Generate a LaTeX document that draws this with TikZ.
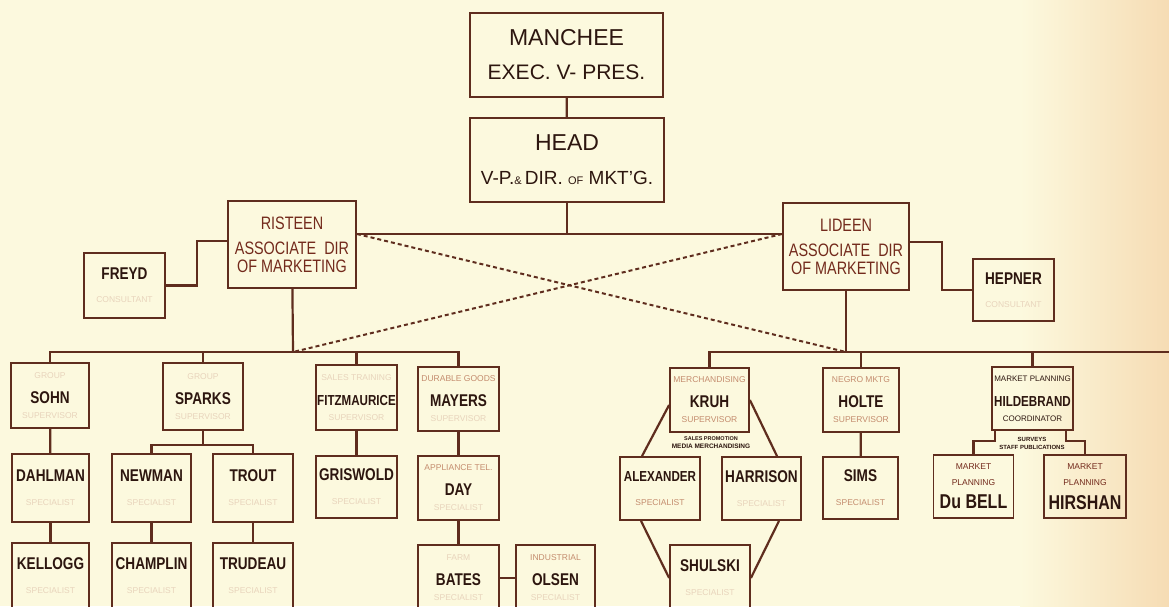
\documentclass[tikz,border=0pt]{standalone}
\usepackage{fontspec}
\setmainfont{Liberation Sans}
\newfontfamily\namefont[FakeStretch=0.8]{Liberation Sans}

\definecolor{paper}{RGB}{252,249,222}
\definecolor{peach}{RGB}{246,220,180}
\definecolor{inkline}{RGB}{95,45,30}
\definecolor{inkname}{RGB}{45,22,15}
\definecolor{inkred}{RGB}{115,42,28}
\definecolor{inkfade}{RGB}{196,140,110}
\definecolor{inkpale}{RGB}{232,212,188}

% bits of text inside the boxes
\newcommand{\who}[1]{{\namefont\bfseries\fontsize{17}{17}\selectfont #1}}
\newcommand{\whosm}[1]{{\namefont\bfseries\fontsize{14.5}{17}\selectfont #1}}
\newcommand{\whobig}[1]{{\namefont\bfseries\fontsize{20}{20}\selectfont #1}}
\newcommand{\role}[1]{{\fontsize{8.5}{10}\selectfont\color{inkfade}#1}}
\newcommand{\rolered}[1]{{\fontsize{8.5}{10}\selectfont\color{inkred}#1}}
\newcommand{\roledark}[1]{{\fontsize{8}{10}\selectfont\color{inkname}#1}}
\newcommand{\pale}[1]{{\fontsize{8.5}{10}\selectfont\color{inkpale}#1}}

\begin{document}
\begin{tikzpicture}[x=1pt,y=-1pt,
    box/.style={draw=inkline, line width=1.8pt, align=center, inner sep=0pt,
      text=inkname, font=\fontsize{9}{14}\selectfont},
    top/.style={box, font=\fontsize{23}{34}\selectfont},
    assoc/.style={box, text=inkred, font=\namefont\fontsize{18}{18}\selectfont},
    link/.style={inkline, line width=2.2pt},
    cross/.style={inkline, line width=2pt, dash pattern=on 4pt off 3pt},
    note/.style={align=center, inner sep=0pt, text=inkname, font=\bfseries\fontsize{6}{8}\selectfont}]

    % paper
    \useasboundingbox (0,0) rectangle (1169,606);
    \fill[paper] (0,0) rectangle (1169,606);
    \shade[left color=paper, right color=peach] (1020,0) rectangle (1169,606);

    % top of the chart
    \node[top, minimum width=193pt, minimum height=84pt] (manchee) at (566.5,55) {MANCHEE\\{\fontsize{21}{34}\selectfont EXEC. V- PRES.}};
    \node[top, minimum width=194pt, minimum height=84pt] (head) at (567,160)
        {HEAD\\{\fontsize{19}{34}\selectfont V-P.{\fontsize{11}{11}\selectfont\&}\,DIR. {\fontsize{11}{11}\selectfont OF} MKT'G.}};

    \node[assoc, minimum width=128pt, minimum height=87pt] (risteen) at (292,244.5)
        {RISTEEN\\[7pt]ASSOCIATE\ \ DIR\\OF MARKETING};
    \node[assoc, minimum width=126pt, minimum height=87pt] (lideen) at (846,246.5)
        {LIDEEN\\[7pt]ASSOCIATE\ \ DIR\\OF MARKETING};

    \node[box, minimum width=81pt, minimum height=65pt] (freyd) at (124.5,285.5) {\who{FREYD}\\[9pt]\pale{CONSULTANT}};
    \node[box, minimum width=81pt, minimum height=62pt] (hepner) at (1013.5,290) {\who{HEPNER}\\[9pt]\pale{CONSULTANT}};

    % risteen's people
    \node[box, minimum width=78pt, minimum height=65pt] (sohn) at (50,395.5) {\pale{GROUP}\\[11pt]\who{SOHN}\\[1pt]\pale{SUPERVISOR}};
    \node[box, minimum width=80pt, minimum height=67pt] (sparks) at (203,396.5) {\pale{GROUP}\\[11pt]\who{SPARKS}\\[1pt]\pale{SUPERVISOR}};
    \node[box, minimum width=81pt, minimum height=65pt] (fitz) at (356.5,397.5) {\pale{SALES TRAINING}\\[11pt]\whosm{FITZMAURICE}\\[1pt]\pale{SUPERVISOR}};
    \node[box, minimum width=81pt, minimum height=64pt] (mayers) at (458.5,399) {\role{DURABLE GOODS}\\[11pt]\who{MAYERS}\\[1pt]\pale{SUPERVISOR}};

    \node[box, minimum width=77pt, minimum height=68pt] (dahlman) at (50.5,488) {\who{DAHLMAN}\\[10pt]\pale{SPECIALIST}};
    \node[box, minimum width=79pt, minimum height=68pt] (newman) at (151.5,488) {\who{NEWMAN}\\[10pt]\pale{SPECIALIST}};
    \node[box, minimum width=80pt, minimum height=68pt] (trout) at (253,488) {\who{TROUT}\\[10pt]\pale{SPECIALIST}};
    \node[box, minimum width=81pt, minimum height=62pt] (griswold) at (356.5,487) {\who{GRISWOLD}\\[10pt]\pale{SPECIALIST}};
    \node[box, minimum width=81pt, minimum height=64pt] (day) at (458.5,488) {\role{APPLIANCE TEL.}\\[11pt]\who{DAY}\\[1pt]\pale{SPECIALIST}};

    \node[box, minimum width=77pt, minimum height=66pt] (kellogg) at (50.5,576) {\who{KELLOGG}\\[10pt]\pale{SPECIALIST}};
    \node[box, minimum width=79pt, minimum height=66pt] (champlin) at (151.5,576) {\who{CHAMPLIN}\\[10pt]\pale{SPECIALIST}};
    \node[box, minimum width=80pt, minimum height=66pt] (trudeau) at (253,576) {\who{TRUDEAU}\\[10pt]\pale{SPECIALIST}};
    \node[box, minimum width=81pt, minimum height=66pt] (bates) at (458.5,578) {\pale{FARM}\\[11pt]\who{BATES}\\[1pt]\pale{SPECIALIST}};
    \node[box, minimum width=79pt, minimum height=66pt] (olsen) at (555.5,578) {\role{INDUSTRIAL}\\[11pt]\who{OLSEN}\\[1pt]\pale{SPECIALIST}};

    % lideen's people
    \node[box, minimum width=79pt, minimum height=64pt] (kruh) at (709.5,400) {\role{MERCHANDISING}\\[11pt]\who{KRUH}\\[1pt]\role{SUPERVISOR}};
    \node[box, minimum width=76pt, minimum height=64pt] (holte) at (861,400) {\role{NEGRO MKTG}\\[11pt]\who{HOLTE}\\[1pt]\role{SUPERVISOR}};
    \node[box, minimum width=81pt, minimum height=63pt] (hild) at (1032.5,398.5) {\roledark{MARKET PLANNING}\\[11pt]\whosm{HILDEBRAND}\\[1pt]\roledark{COORDINATOR}};

    \node[box, minimum width=80pt, minimum height=63pt] (alexander) at (660,488.5) {\whosm{ALEXANDER}\\[10pt]\role{SPECIALIST}};
    \node[box, minimum width=79pt, minimum height=63pt] (harrison) at (761.5,488.5) {\who{HARRISON}\\[10pt]\pale{SPECIALIST}};
    \node[box, minimum width=75pt, minimum height=62pt] (sims) at (860.5,488) {\who{SIMS}\\[10pt]\role{SPECIALIST}};
    \node[box, minimum width=80pt, minimum height=66pt] (shulski) at (710,578) {\who{SHULSKI}\\[10pt]\pale{SPECIALIST}};

    \node[box, minimum width=80pt, minimum height=63pt] (dubell) at (973.5,486.5) {\rolered{MARKET}\\[2pt]\rolered{PLANNING}\\[9pt]\whobig{Du BELL}};
    \node[box, minimum width=82pt, minimum height=63pt] (hirshan) at (1085,486.5) {\rolered{MARKET}\\[2pt]\rolered{PLANNING}\\[9pt]\whobig{HIRSHAN}};

    \node[note, font=\bfseries\fontsize{5.5}{8}\selectfont] (kruhnote) at (711,443) {SALES PROMOTION\\{\fontsize{6.5}{8}\selectfont MEDIA MERCHANDISING}};
    \node[note] (hildnote) at (1032,443) {SURVEYS\\STAFF PUBLICATIONS};

    % connectors
    \coordinate (hub) at (567,234);
    \coordinate (lbus) at (293,352);
    \coordinate (rbus) at (846,352);
    \coordinate (rend) at (1175,352);
    \coordinate (fr1) at (197,241);
    \coordinate (hp1) at (942,242);
    \coordinate (sp1) at (203,445);
    \coordinate (hl1) at (973.5,441);
    \coordinate (hr1) at (1085,441);

    \draw[link] (manchee) -- (head);
    \draw[link] (head) -- (hub);
    \draw[link] (risteen.east |- hub) -- (lideen.west |- hub);
    \draw[link] (freyd.east) -| (fr1) -- (fr1 -| risteen.west);
    \draw[link] (lideen.east |- hp1) -- (hp1) |- (hepner.west);

    \draw[cross] (risteen.east |- hub) -- (rbus);
    \draw[cross] (lideen.west |- hub) -- (lbus);

    \draw[link] (risteen) -- (lbus);
    \draw[link] (sohn.north) |- (lbus) -| (mayers.north);
    \draw[link] (sparks.north) -- (sparks.north |- lbus);
    \draw[link] (fitz.north) -- (fitz.north |- lbus);
    \draw[link] (sohn) -- (dahlman);
    \draw[link] (dahlman) -- (kellogg);
    \draw[link] (sparks) -- (sp1);
    \draw[link] (newman.north) |- (sp1) -| (trout.north);
    \draw[link] (newman) -- (champlin);
    \draw[link] (trout) -- (trudeau);
    \draw[link] (fitz) -- (griswold);
    \draw[link] (mayers) -- (day);
    \draw[link] (day) -- (bates);
    \draw[link] (bates) -- (olsen);

    \draw[link] (lideen) -- (rbus);
    \draw[link] (kruh.north) |- (rend);
    \draw[link] (holte.north) -- (holte.north |- rbus);
    \draw[link] (hild.north) -- (hild.north |- rbus);
    \draw[link] ([yshift=-5pt]kruh.west) -- ([xshift=-18pt]alexander.north);
    \draw[link] (kruh.east) -- ([xshift=15.5pt]harrison.north);
    \draw[link] ([xshift=-19pt]alexander.south) -- (shulski.west);
    \draw[link] ([xshift=17.5pt]harrison.south) -- (shulski.east);
    \draw[link] (holte) -- (sims);
    \draw[link] ([xshift=4pt]hild.south west) |- (hl1) -- (dubell.north);
    \draw[link] ([xshift=-8pt]hild.south east) |- (hr1) -- (hirshan.north);
\end{tikzpicture}
\end{document}
